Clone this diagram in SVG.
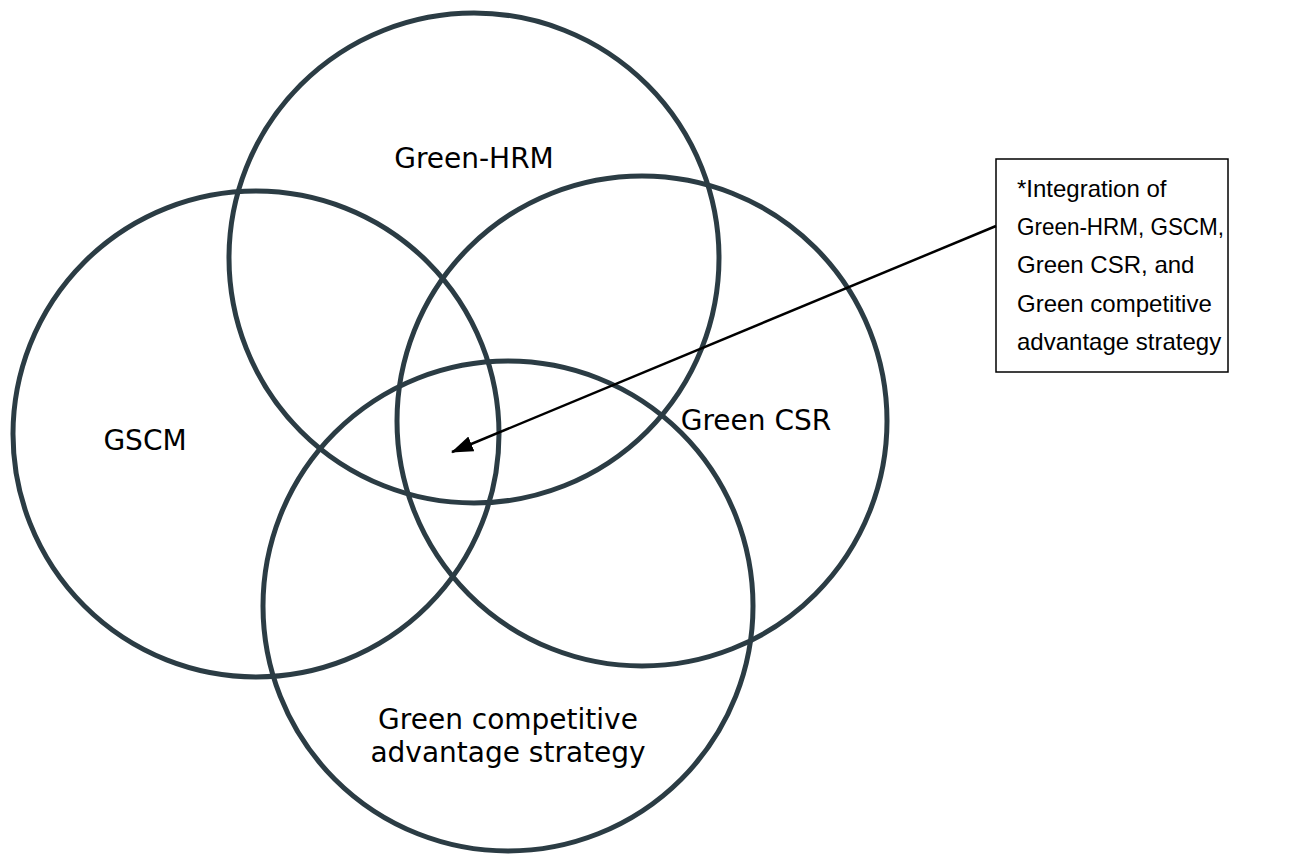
<svg xmlns="http://www.w3.org/2000/svg" width="1290" height="854" viewBox="0 0 1290 854">
<style>
.c{fill:none;stroke:#2b3c44;stroke-width:5}
.l{font-family:"DejaVu Sans",sans-serif;font-size:28px;fill:#000;text-anchor:middle}
.n{font-family:"Liberation Sans",Arial,sans-serif;font-size:24px;fill:#000}
</style>
<defs>
<marker id="ah" markerWidth="22" markerHeight="16" refX="21" refY="8" orient="auto" markerUnits="userSpaceOnUse" viewBox="0 0 22 16">
<path d="M0,0 L22,8 L0,16 z" fill="#000"/>
</marker>
</defs>
<rect width="1290" height="854" fill="#fff"/>
<g id="hrm"><circle class="c" cx="474" cy="258" r="245"/><text class="l" x="474" y="168">Green-HRM</text></g>
<g id="gscm"><circle class="c" cx="256" cy="434" r="243"/><text class="l" x="145" y="450">GSCM</text></g>
<g id="csr"><circle class="c" cx="642" cy="421" r="245"/><text class="l" x="756" y="430">Green CSR</text></g>
<g id="gcas"><circle class="c" cx="508" cy="606" r="245"/><text class="l" x="508" y="729">Green competitive</text><text class="l" x="508" y="762">advantage strategy</text></g>
<g id="note">
<rect x="996" y="159" width="232" height="213" fill="#fff" stroke="#000" stroke-width="1.5"/>
<text class="n" x="1017" y="197">*Integration of</text>
<text class="n" x="1017" y="235" textLength="207" lengthAdjust="spacingAndGlyphs">Green-HRM, GSCM,</text>
<text class="n" x="1017" y="273">Green CSR, and</text>
<text class="n" x="1017" y="312">Green competitive</text>
<text class="n" x="1017" y="350">advantage strategy</text>
</g>
<g id="connectors">
<line x1="996" y1="226" x2="452" y2="452" stroke="#000" stroke-width="2.5" marker-end="url(#ah)"/>
</g>
</svg>
